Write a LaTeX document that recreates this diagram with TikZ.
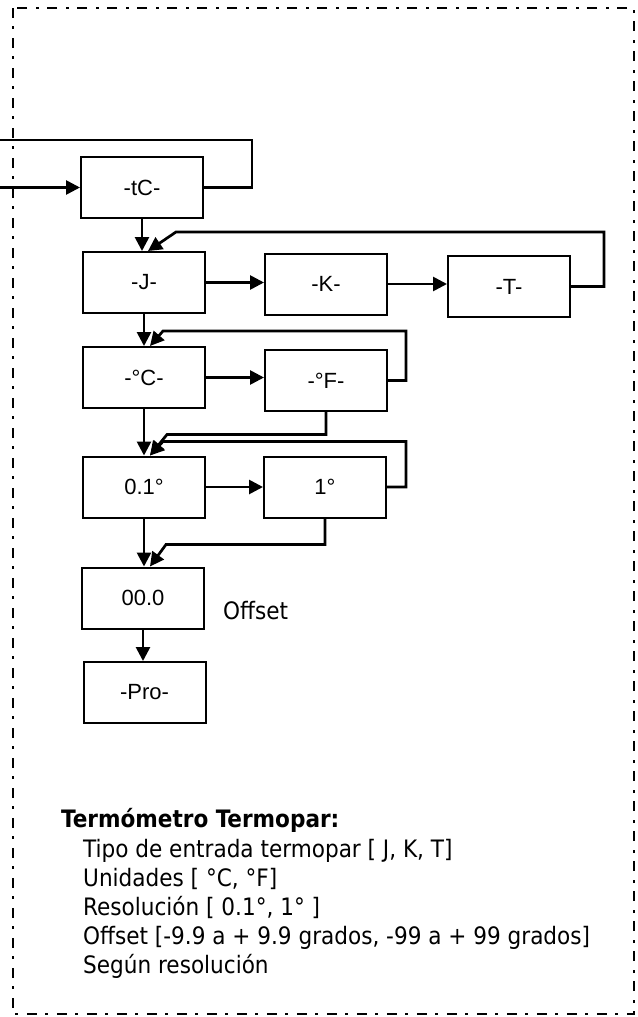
\documentclass[tikz,border=0pt]{standalone}
\usepackage{fontspec}
\setmainfont{Liberation Sans}
\newfontfamily\notefont{DejaVu Sans Condensed}
\usetikzlibrary{calc}
\usetikzlibrary{arrows.meta}
\tikzset{
	menubox/.style={draw, line width=2pt, minimum width=122pt, minimum height=61pt, inner sep=0pt, font=\fontsize{22}{26}\selectfont},
	flow/.style={line width=2.7pt, -{Triangle[length=14pt,width=14pt]}},
	back/.style={line width=2.7pt},
	frame/.style={line width=2pt, dash pattern=on 10pt off 8pt on 3pt off 9pt},
	note/.style={inner sep=0pt, font=\notefont\fontsize{24}{29}\selectfont},
}

\begin{document}
\begin{tikzpicture}[x=1pt,y=-1pt]
		\useasboundingbox (0,0) rectangle (637,1017);
		% dash-dot frame round the whole menu
		\draw[frame] (13,8) rectangle (634,1014);
		% menu boxes
		\node[menubox] (tC) at (142,187.5) {-tC-};
		\node[menubox] (J) at (144,282.5) {-J-};
		\node[menubox] (K) at (326,284) {-K-};
		\node[menubox] (T) at (509,286.5) {-T-};
		\node[menubox] (degC) at (144,377.5) {-°C-};
		\node[menubox] (degF) at (326,380.5) {-°F-};
		\node[menubox] (tenth) at (144,487) {0.1°};
		\node[menubox] (whole) at (325,487) {1°};
		\node[menubox] (offs) at (143,598) {00.0};
		\node[menubox] (pro) at (144.5,692.5) {-Pro-};
		% loose ends on the left
		\coordinate (in) at (0,187.5);
		\coordinate (out) at (0,140);
		\draw[flow] (in) -- (tC.west);
		\draw[back] (tC.east) -- ++(48,0) |- (out);
		% sensor type
		\draw[flow] (tC.south) -- (tC.south |- J.north);
		\draw[flow] (J.east) -- (J.east -| K.west);
		\draw[flow] (K.east) -- (K.east -| T.west);
		\draw[flow] (T.east) -- ++(33,0) |- ($ (J.north) + (32,-19) $) -- ($ (J.north) + (4,0) $);
		% units
		\draw[flow] (J.south) -- (J.south |- degC.north);
		\draw[flow] (degC.east) -- (degC.east -| degF.west);
		\draw[flow] (degF.east) -- ++(18,0) |- ($ (degC.north) + (19,-15) $) -- ($ (degC.north) + (6,0) $);
		% resolution
		\draw[flow] (degC.south) -- (degC.south |- tenth.north);
		\draw[flow] (degF.south) |- ($ (tenth.north) + (23,-21) $) -- ($ (tenth.north) + (6,0) $);
		\draw[flow] (tenth.east) -- (tenth.east -| whole.west);
		\draw[flow] (whole.east) -- ++(19,0) |- ($ (tenth.north) + (19,-14) $) -- ($ (tenth.north) + (6,0) $);
		% offset and exit
		\draw[flow] (tenth.south) -- (tenth.south |- offs.north);
		\draw[flow] (whole.south) |- ($ (offs.north) + (23,-22) $) -- ($ (offs.north) + (7,0) $);
		\draw[flow] (offs.south) -- (offs.south |- pro.north);
		\node[note, anchor=base west] (offlabel) at (223,619.5) {Offset};
		% notes
		\node[note, anchor=base west, font=\notefont\bfseries\fontsize{24}{29}\selectfont] (title) at (61,827) {Termómetro Termopar:};
		\node[note, anchor=north west, align=left] (specs) at (83,839) {Tipo de entrada termopar [ J, K, T]\\Unidades [ °C, °F]\\Resolución [ 0.1°, 1° ]\\Offset [-9.9 a + 9.9 grados, -99 a + 99 grados]\\Según resolución};
	\end{tikzpicture}
\end{document}
